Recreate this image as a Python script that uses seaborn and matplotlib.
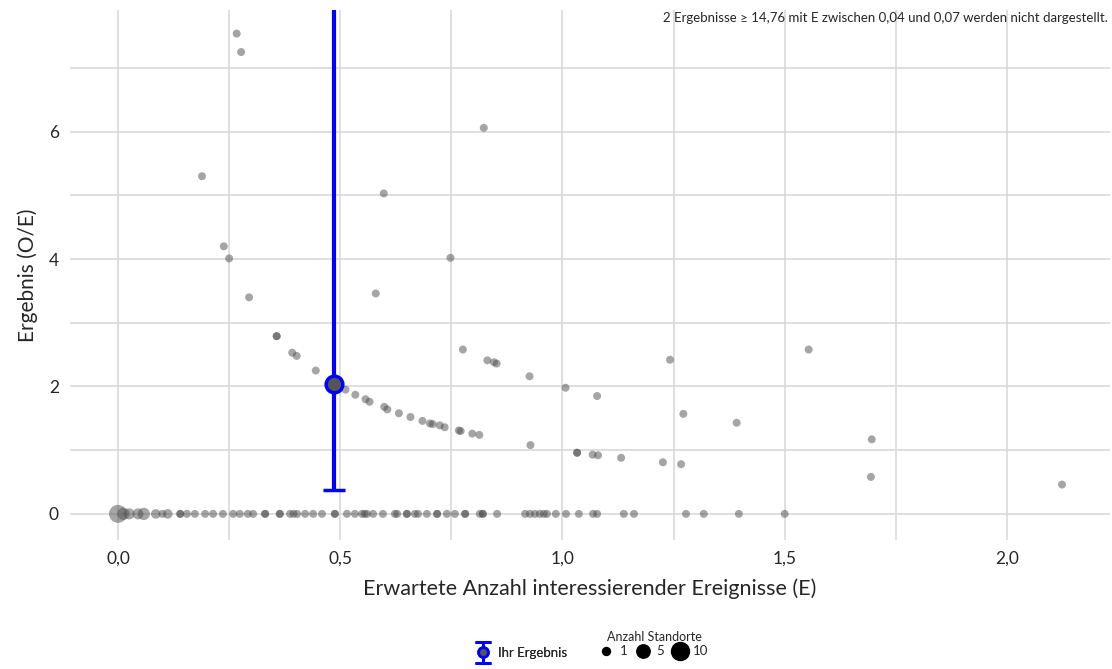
import matplotlib
matplotlib.use("Agg")
import matplotlib.pyplot as plt
import seaborn as sns
import pandas as pd
from matplotlib.lines import Line2D
from matplotlib.legend_handler import HandlerErrorbar
from matplotlib.ticker import MultipleLocator, FuncFormatter

# results with O/E > 0: expected count E, result O/E, number of sites
e_pos = [0.267, 0.277, 0.189, 0.238, 0.250, 0.295, 0.598, 0.580, 0.748, 0.823,
         0.357, 0.357, 0.392, 0.402, 0.445, 0.487, 0.512, 0.534, 0.557, 0.566,
         0.599, 0.606, 0.632, 0.658, 0.685, 0.702, 0.708, 0.724, 0.735, 0.767,
         0.771, 0.797, 0.813, 0.776, 0.831, 0.846, 0.852, 0.926, 0.928, 1.007,
         1.078, 1.033, 1.033, 1.068, 1.080, 1.132, 1.226, 1.267, 1.242, 1.272,
         1.392, 1.554, 1.696, 1.694, 2.124]
oe_pos = [7.54, 7.25, 5.30, 4.20, 4.01, 3.40, 5.03, 3.46, 4.02, 6.06,
          2.79, 2.79, 2.53, 2.48, 2.25, 2.04, 1.95, 1.87, 1.80, 1.76,
          1.68, 1.64, 1.58, 1.52, 1.46, 1.42, 1.41, 1.39, 1.36, 1.31,
          1.30, 1.26, 1.24, 2.58, 2.41, 2.38, 2.36, 2.16, 1.08, 1.98,
          1.85, 0.96, 0.96, 0.93, 0.92, 0.88, 0.81, 0.78, 2.42, 1.57,
          1.43, 2.58, 1.17, 0.58, 0.46]

# results with O/E == 0
e_zero = [0.0, 0.012, 0.025, 0.045, 0.058, 0.085, 0.100, 0.112, 0.140, 0.140,
          0.155, 0.173, 0.196, 0.214, 0.236, 0.259, 0.274, 0.292,
          0.304, 0.331, 0.331, 0.364, 0.364, 0.387, 0.395, 0.403, 0.421, 0.439,
          0.459, 0.488, 0.488, 0.515, 0.533, 0.549, 0.555, 0.560, 0.574, 0.596, 0.623,
          0.628, 0.650, 0.650, 0.668, 0.675, 0.695, 0.718, 0.718, 0.740, 0.758,
          0.781, 0.781, 0.814, 0.821, 0.821, 0.853, 0.916, 0.927, 0.938, 0.949,
          0.958, 0.965, 0.985, 1.008, 1.037, 1.069, 1.078, 1.138, 1.161, 1.278,
          1.318, 1.397, 1.500]
n_zero = [10, 4, 3, 3, 4, 2, 1, 2, 1, 1,
          1, 1, 1, 1, 1, 1, 1, 1,
          1, 1, 1, 1, 1, 1, 1, 1, 1, 1,
          1, 1, 1, 1, 1, 1, 1, 1, 1, 1, 1,
          1, 1, 1, 1, 1, 1, 1, 1, 1, 1,
          1, 1, 1, 1, 1, 1, 1, 1, 1, 1,
          1, 1, 1, 1, 1, 1, 1, 1, 1, 1,
          1, 1, 1]

# own result with confidence interval
own_e = 0.487
own_oe = 2.04
own_lo = 0.37
own_hi = 14.0

size_levels = [1, 5, 10]
note = "2 Ergebnisse \u2265 14,76 mit E zwischen 0,04 und 0,07 werden nicht dargestellt."

df = pd.DataFrame({
    "E": e_pos + e_zero,
    "OE": oe_pos + [0.0] * len(e_zero),
    "n": [1] * len(e_pos) + n_zero,
})

sns.set_style("white")
plt.rcParams["font.family"] = ["Lato", "DejaVu Sans"]

fig = plt.figure(figsize=(11.12, 6.69), dpi=100)
ax = fig.add_axes([70 / 1112, 1 - 540 / 669, 1040 / 1112, 530 / 669])

sizes = (33, 168)
sns.scatterplot(data=df, x="E", y="OE", size="n", sizes=sizes, size_norm=(1, 10),
                color="#4d4d4d", alpha=0.5, linewidth=0, legend=False, ax=ax, zorder=3)

ax.errorbar([own_e], [own_oe], yerr=[[own_oe - own_lo], [own_hi - own_oe]],
            fmt="o", color="blue", ecolor="blue", elinewidth=3, capsize=8, capthick=3,
            markersize=12, markerfacecolor="#555555", markeredgecolor="blue",
            markeredgewidth=2.5, zorder=4)

# smaller copy of the error bar, outside the view, only for the legend
proxy = ax.errorbar([-5], [1], yerr=[1], fmt="o", color="blue", ecolor="blue",
                    elinewidth=2, capsize=6, capthick=2, markersize=7,
                    markerfacecolor="#555555", markeredgecolor="blue",
                    markeredgewidth=2, label="Ihr Ergebnis")

ax.set_xlim(-0.108, 2.232)
ax.set_ylim(-0.41, 7.91)
ax.xaxis.set_major_locator(MultipleLocator(0.5))
ax.xaxis.set_minor_locator(MultipleLocator(0.25))
ax.yaxis.set_major_locator(MultipleLocator(2))
ax.yaxis.set_minor_locator(MultipleLocator(1))
ax.xaxis.set_major_formatter(FuncFormatter(lambda v, _: f"{v:.1f}".replace(".", ",")))
ax.yaxis.set_major_formatter(FuncFormatter(lambda v, _: f"{v:.0f}"))
ax.grid(True, which="both", color="#d6d6d6", linewidth=1.1)
ax.set_axisbelow(True)
for s in ax.spines.values():
    s.set_visible(False)
ax.tick_params(axis="both", which="both", length=0, labelsize=12.5, pad=8)
ax.set_xlabel("Erwartete Anzahl interessierender Ereignisse (E)", fontsize=15.5, labelpad=8)
ax.set_ylabel("Ergebnis (O/E)", fontsize=15, labelpad=8)

fig.text(1108 / 1112, 1 - 18 / 669, note, ha="right", va="center", fontsize=9.5)

leg1 = fig.legend(handles=[proxy], loc="center", bbox_to_anchor=(522 / 1112, 1 - 653 / 669),
                  frameon=False, fontsize=9.5, handlelength=1.0, handletextpad=0.6,
                  handler_map={type(proxy): HandlerErrorbar(yerr_size=0.8)})

def size_to_ms(n):
    s = sizes[0] + (n - 1) / 9 * (sizes[1] - sizes[0])
    return s ** 0.5

size_handles = [Line2D([], [], linestyle="none", marker="o", color="black",
                       markersize=size_to_ms(n), label=str(n)) for n in size_levels]
leg2 = fig.legend(handles=size_handles, loc="center", bbox_to_anchor=(654 / 1112, 1 - 644 / 669),
                  frameon=False, fontsize=9.5, ncol=3, title="Anzahl Standorte",
                  title_fontsize=9, handlelength=1.0, handletextpad=0.5, columnspacing=0.7,
                  borderpad=0.1, labelspacing=0.2)
fig.add_artist(leg1)

fig.savefig("out.png", dpi=100)
